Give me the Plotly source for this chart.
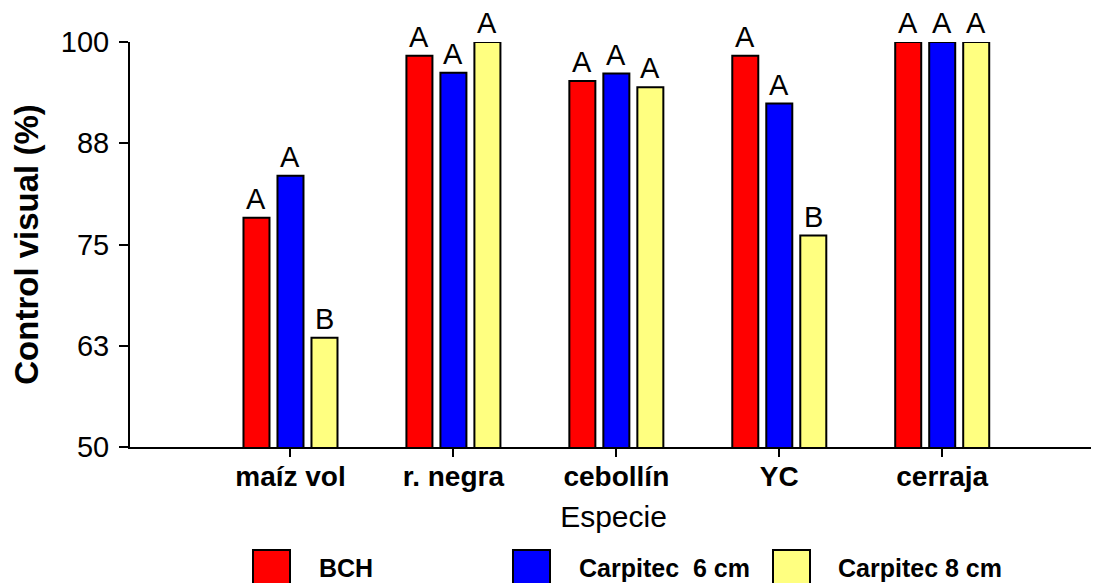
import plotly.graph_objects as go

categories = ["maíz vol", "r. negra", "cebollín", "YC", "cerraja"]
series_names = ["BCH", "Carpitec  6 cm", "Carpitec 8 cm"]
bch = [78.3, 98.3, 95.2, 98.3, 100.0]
carp6 = [83.5, 96.2, 96.1, 92.4, 100.0]
carp8 = [63.5, 100.0, 94.4, 76.1, 100.0]
bch_letters = ["A", "A", "A", "A", "A"]
carp6_letters = ["A", "A", "A", "A", "A"]
carp8_letters = ["B", "A", "A", "B", "A"]
y_tickvals = [50, 62.5, 75, 87.5, 100]
y_ticktext = ["50", "63", "75", "88", "100"]

colors = ["#FF0000", "#0000FF", "#FFFF80"]
values = [bch, carp6, carp8]
letters = [bch_letters, carp6_letters, carp8_letters]

# page body has an 8px margin; figure is sized to fit the window
OFF = 8
W, H = 1099 - OFF, 583 - OFF
ML, MR, MT, MB = 122, 2, 34, 136
PW, PH = W - ML - MR, H - MT - MB
XR = [-0.985, 4.95]
BARGAP, GROUPGAP = 0.374, 0.235
FONT = "Liberation Sans, Arial"

fig = go.Figure()
for name, vals, col in zip(series_names, values, colors):
    fig.add_trace(go.Bar(
        x=categories, y=vals, name=name,
        marker=dict(color=col, line=dict(color="black", width=2)),
        showlegend=False,
    ))

# significance letters above the bars
px_per_cat = PW / (XR[1] - XR[0])
slot = (1 - BARGAP) / 3 * px_per_cat
annotations = []
for i, (vals, txt) in enumerate(zip(values, letters)):
    for c, v, t in zip(categories, vals, txt):
        annotations.append(dict(x=c, y=v, xref="x", yref="y", text=t,
                                showarrow=False, xanchor="center", yanchor="bottom",
                                xshift=(i - 1) * slot, yshift=2, borderpad=0,
                                font=dict(family=FONT, size=29, color="black")))


def px_x(p):
    return (p - OFF - ML) / PW


def px_y(p):
    return (H - MB - (p - OFF)) / PH


shapes = []
legend_box_left = [253, 513, 773]
legend_text_left = [317, 577, 836]
for name, col, bx, tx in zip(series_names, colors, legend_box_left, legend_text_left):
    shapes.append(dict(type="rect", xref="paper", yref="paper",
                       x0=px_x(bx), x1=px_x(bx + 37), y0=px_y(550), y1=px_y(590),
                       fillcolor=col, line=dict(color="black", width=2)))
    annotations.append(dict(xref="paper", yref="paper", x=px_x(tx), y=px_y(568),
                            xanchor="left", yanchor="middle", text="<b>%s</b>" % name,
                            showarrow=False,
                            font=dict(family=FONT, size=25, color="black")))

fig.update_layout(
    width=W, height=H,
    margin=dict(l=ML, r=MR, t=MT, b=MB),
    plot_bgcolor="white", paper_bgcolor="white",
    barmode="group", bargap=BARGAP, bargroupgap=GROUPGAP,
    font=dict(family=FONT, color="black"),
    shapes=shapes, annotations=annotations,
    xaxis=dict(
        range=XR, showline=True, linecolor="black", linewidth=2,
        ticks="outside", ticklen=8, tickwidth=2, tickcolor="black",
        tickvals=categories, ticktext=["<b>%s</b>" % c for c in categories],
        tickfont=dict(size=28, family=FONT),
        ticklabelstandoff=-5,
        title=dict(text="Especie", font=dict(size=30), standoff=15),
        showgrid=False, zeroline=False, automargin=False,
    ),
    yaxis=dict(
        range=[50, 100], showline=True, linecolor="black", linewidth=2,
        ticks="outside", ticklen=9, tickwidth=2, tickcolor="black",
        tickvals=y_tickvals, ticktext=y_ticktext,
        tickfont=dict(size=29, family=FONT),
        ticklabelstandoff=4,
        title=dict(text="<b>Control visual (%)</b>", font=dict(size=33), standoff=14),
        showgrid=False, zeroline=False, automargin=False,
    ),
)

fig.write_html("out.html")
